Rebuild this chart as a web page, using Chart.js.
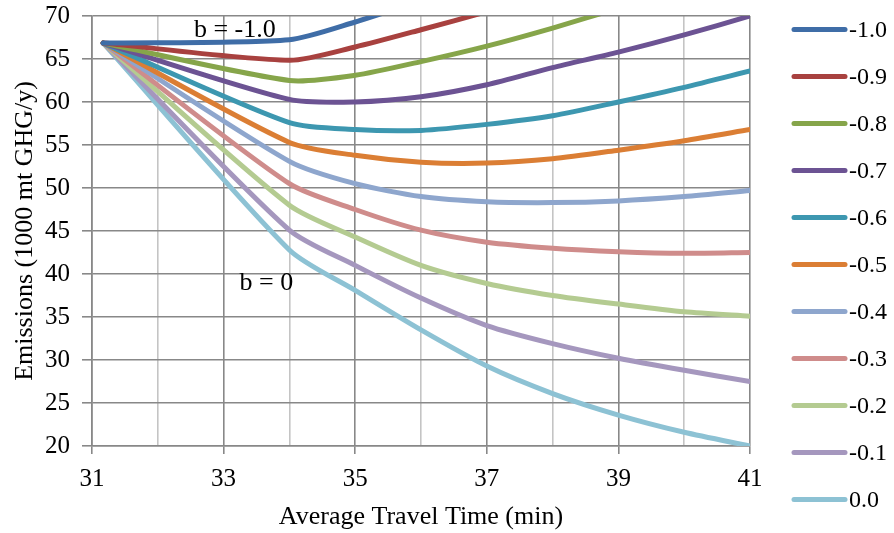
<!DOCTYPE html>
<html>
<head>
<meta charset="utf-8">
<script src="https://cdn.jsdelivr.net/npm/chart.js@4.4.1/dist/chart.umd.min.js"></script>
<style>
  html, body { margin: 0; padding: 0; background: #fff; }
  canvas { display: block; }
</style>
</head>
<body>
<canvas id="chart" width="894" height="533"></canvas>
<script>
// x values: average travel time (min) where each curve was sampled
var travelTime = [31.17, 34, 35, 36, 37, 38, 39, 40, 41];

// one curve per elasticity b, emissions in 1000 mt GHG/y
var bLabels = ['-1.0', '-0.9', '-0.8', '-0.7', '-0.6', '-0.5', '-0.4', '-0.3', '-0.2', '-0.1', '0.0'];
var bm10 = [66.85, 67.25, 69.3, 71.8, 74.3, 76.8, 79.3, 81.8, 84.3];
var bm09 = [66.85, 64.85, 66.4, 68.4, 70.5, 72.7, 75.0, 77.3, 79.6];
var bm08 = [66.85, 62.5, 63.1, 64.7, 66.5, 68.6, 70.9, 73.2, 75.5];
var bm07 = [66.85, 60.3, 60.0, 60.6, 62.0, 64.0, 65.8, 67.8, 70.0];
var bm06 = [66.85, 57.6, 56.8, 56.7, 57.4, 58.4, 60.0, 61.7, 63.6];
var bm05 = [66.85, 55.3, 53.8, 53.0, 52.9, 53.4, 54.4, 55.5, 56.8];
var bm04 = [66.85, 53.1, 50.5, 49.0, 48.4, 48.3, 48.5, 49.0, 49.7];
var bm03 = [66.85, 50.5, 47.5, 45.1, 43.7, 43.0, 42.6, 42.4, 42.5];
var bm02 = [66.85, 48.0, 44.3, 41.0, 38.9, 37.5, 36.5, 35.6, 35.1];
var bm01 = [66.85, 45.1, 41.0, 37.2, 34.0, 31.9, 30.2, 28.8, 27.5];
var b00  = [66.85, 42.8, 38.1, 33.5, 29.3, 26.1, 23.6, 21.6, 20.0];
var series = [bm10, bm09, bm08, bm07, bm06, bm05, bm04, bm03, bm02, bm01, b00];

var colors = ['#3f6da7', '#a8413f', '#86a54a', '#6c5393', '#3d97b0', '#db7e34',
              '#8ea6cd', '#cf8c8b', '#b4cb91', '#a597be', '#8dc2d4'];

// text labels written inside the plot
var notes = [
  {text: 'b = -1.0', x: 33.17, y: 68.3},
  {text: 'b = 0', x: 33.65, y: 38.9}
];

var FONT = 'Liberation Serif';
var darkGrid = '#888888';
var lightGrid = '#c4c4c4';

var datasets = series.map(function(vals, i) {
  return {
    label: bLabels[i],
    data: vals.map(function(v, j) { return {x: travelTime[j], y: v}; }),
    borderColor: colors[i],
    backgroundColor: colors[i],
    borderWidth: 5,
    borderCapStyle: 'round',
    pointRadius: 0,
    tension: 0.25,
    clip: 0,
    fill: false
  };
});

// legend on the right, spaced like the original
var sideLegend = {
  id: 'sideLegend',
  afterDraw: function(chart) {
    var ctx = chart.ctx;
    var x0 = chart.chartArea.right + 44;
    ctx.save();
    ctx.font = '24px "' + FONT + '"';
    ctx.textBaseline = 'middle';
    ctx.textAlign = 'left';
    ctx.lineCap = 'round';
    ctx.lineWidth = 5;
    chart.data.datasets.forEach(function(ds, i) {
      var y = 29.5 + i * 47;
      ctx.strokeStyle = ds.borderColor;
      ctx.beginPath();
      ctx.moveTo(x0, y);
      ctx.lineTo(x0 + 51, y);
      ctx.stroke();
      ctx.fillStyle = '#000';
      ctx.fillText(ds.label, x0 + 55, y + 1);
    });
    ctx.restore();
  }
};

var plotNotes = {
  id: 'plotNotes',
  afterDatasetsDraw: function(chart) {
    var ctx = chart.ctx;
    ctx.save();
    ctx.font = '26px "' + FONT + '"';
    ctx.textAlign = 'center';
    ctx.textBaseline = 'middle';
    ctx.fillStyle = '#000';
    notes.forEach(function(n) {
      ctx.fillText(n.text, chart.scales.x.getPixelForValue(n.x), chart.scales.y.getPixelForValue(n.y));
    });
    ctx.restore();
  }
};

new Chart(document.getElementById('chart'), {
  type: 'line',
  data: {datasets: datasets},
  plugins: [sideLegend, plotNotes],
  options: {
    responsive: false,
    animation: false,
    layout: {padding: {left: 0, right: 144, top: 16, bottom: 0}},
    plugins: {
      legend: {display: false},
      tooltip: {enabled: false}
    },
    scales: {
      x: {
        type: 'linear',
        min: 31,
        max: 41,
        afterFit: function(scale) { scale.height = 87; },
        ticks: {
          stepSize: 1,
          autoSkip: false,
          maxRotation: 0,
          padding: 10,
          color: '#000',
          font: {family: FONT, size: 25},
          callback: function(v) { return v % 2 === 1 ? v : ''; }
        },
        grid: {
          color: function(c) { return c.tick && c.tick.value % 2 === 1 ? darkGrid : lightGrid; },
          tickColor: function(c) { return c.tick && c.tick.value % 2 === 1 ? darkGrid : 'rgba(0,0,0,0)'; },
          lineWidth: 1.6,
          tickLength: 8
        },
        border: {color: darkGrid, width: 1.6},
        title: {
          display: true,
          text: 'Average Travel Time (min)',
          color: '#000',
          font: {family: FONT, size: 26},
          padding: {top: 7, bottom: 0}
        }
      },
      y: {
        min: 20,
        max: 70,
        afterFit: function(scale) {
          scale.width = 92;
          scale.paddingTop = 0;
          scale.paddingBottom = 0;
        },
        ticks: {
          stepSize: 5,
          padding: 12,
          color: '#000',
          font: {family: FONT, size: 25}
        },
        grid: {
          color: darkGrid,
          lineWidth: 1.6,
          tickLength: 10
        },
        border: {color: darkGrid, width: 1.6},
        title: {
          display: true,
          text: 'Emissions (1000 mt GHG/y)',
          color: '#000',
          font: {family: FONT, size: 26},
          padding: {top: 10, bottom: 0}
        }
      }
    }
  }
});
</script>
</body>
</html>
